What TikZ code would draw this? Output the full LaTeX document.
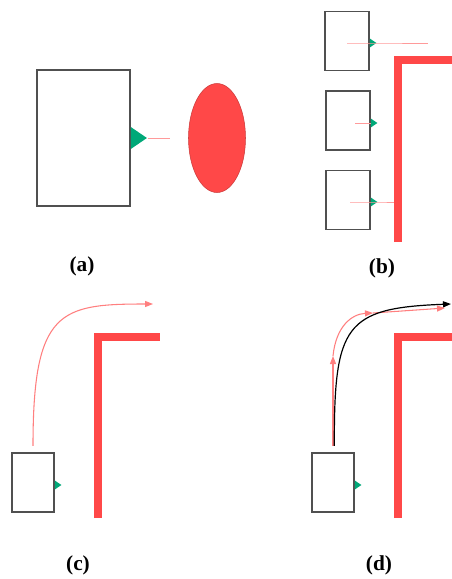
\documentclass[tikz,border=0pt]{standalone}
\usepackage{fontspec}
\setmainfont{Liberation Serif}
\usepackage{tikz}
\usetikzlibrary{arrows.meta,positioning,shapes.geometric}
\definecolor{wallred}{HTML}{FF4848}
\definecolor{rayred}{HTML}{FF9A9A}
\definecolor{sensorgreen}{HTML}{00A878}
\definecolor{boxgray}{HTML}{505050}
\tikzset{
  robot/.style={
    rectangle, draw=boxgray, line width=0.8pt, fill=white,
    minimum width=#1*0.75pt, minimum height=59*0.75pt,
    inner sep=0pt
  },
  robot/.default=43,
  sensor/.style={
    isosceles triangle, fill=sensorgreen, draw=none,
    isosceles triangle stretches, inner sep=0pt,
    minimum width=#1*0.75pt, minimum height=#1*0.55pt,
    anchor=lower side
  },
  sensor/.default=9,
  target/.style={
    ellipse, fill=wallred, draw=wallred!80!black, line width=0.4pt,
    minimum width=57*0.75pt, minimum height=109*0.75pt
  },
  wall/.style={draw=wallred, line width=8*0.75pt, line join=miter},
  ray/.style={draw=rayred, line width=0.5pt},
  route/.style={draw=wallred!70, line width=0.8pt,
    -{Triangle[length=6pt,width=4.5pt]}},
  track/.style={draw=black, line width=0.9pt,
    -{Triangle[length=6pt,width=4.5pt]}},
  caption/.style={font=\fontsize{16}{19}\selectfont\bfseries}
}
\begin{document}
\begin{tikzpicture}[x=0.75pt, y=-0.75pt]
    \useasboundingbox (0,0) rectangle (452,579);
    % (a)
    \node[robot=93, minimum height=136*0.75pt] (ra) at (83.5,138) {};
    \node[sensor=22] (sa) at (ra.east) {};
    \node[target] (goal) at (217,138) {};
    \coordinate (ea) at (170,138);
    \draw[ray] (sa.apex) -- (ea);
    \node[caption] (la) at (82,266) {(a)};
    % (b)
    \node[robot=44] (rb1) at (347,41) {};
    \node[robot=44] (rb2) at (348,120.5) {};
    \node[robot=44] (rb3) at (348,200) {};
    \node[sensor] (sb1) at (rb1.east |- 0,43) {};
    \node[sensor] (sb2) at (rb2.east |- 0,123) {};
    \node[sensor] (sb3) at (rb3.east |- 0,202) {};
    \coordinate (b1s) at (347,43);
    \coordinate (b1e) at (428,43);
    \coordinate (b2s) at (355,123);
    \coordinate (b3s) at (350,202);
    \coordinate (b3e) at (396,202);
    \draw[ray] (b1s) -- (sb1.apex) -- (b1e);
    \draw[ray] (b2s) -- (sb2.lower side);
    \draw[ray] (b3s) -- (sb3.apex) -- (b3e);
    \draw[wall] (398,242) -- (398,60) -- (452,60);
    \node[caption] (lb) at (382,268) {(b)};
    % (c)
    \node[robot=42] (rc) at (33,482.5) {};
    \node[sensor] (sc) at (rc.east |- 0,485) {};
    \draw[wall] (98,518) -- (98,337) -- (160,337);
    \coordinate (ce) at (153,304);
    \draw[route, shorten <=5pt] (rc.north) .. controls (33,310) and (60,304) .. (ce);
    \node[caption] (lc) at (78,565) {(c)};
    % (d)
    \node[robot=42] (rd) at (333,482.5) {};
    \node[sensor] (sd) at (rd.east |- 0,485) {};
    \draw[wall] (398,518) -- (398,337) -- (452,337);
    \coordinate (d1) at (333,356);
    \coordinate (d2) at (373,313);
    \coordinate (d3) at (445,308);
    \coordinate (de) at (451,304);
    \draw[route, shorten <=5pt] (rd.north) -- (d1);
    \draw[route] (d1) .. controls (336,326) and (352,314) .. (d2);
    \draw[route] (d2) -- (d3);
    \draw[track, shorten <=5pt] ([xshift=1pt]rd.north) .. controls (334,325) and (345,308) .. (de);
    \node[caption] (ld) at (379,565) {(d)};
\end{tikzpicture}
\end{document}
